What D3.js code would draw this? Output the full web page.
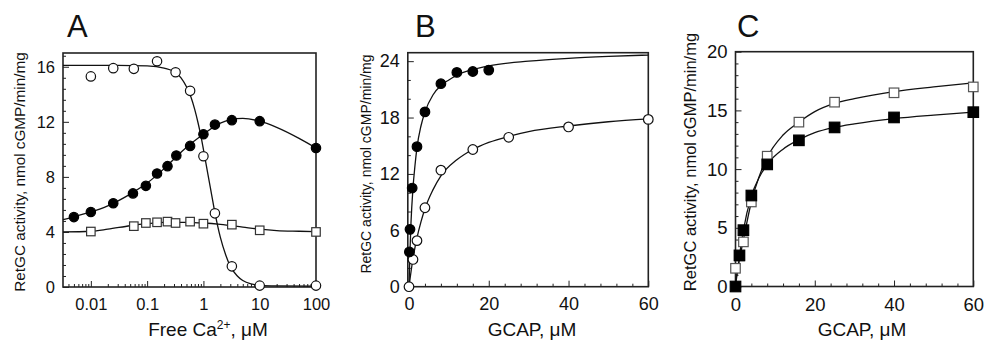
<!DOCTYPE html>
<html>
<head>
<meta charset="utf-8">
<script src="https://cdn.jsdelivr.net/npm/d3@7"></script>
<style>
body { margin: 0; background: #fff; }
svg { display: block; font-family: "Liberation Sans", Arial, sans-serif; }
</style>
</head>
<body>
<div id="chart"></div>
<script>
// ---- panel A : activity vs free Ca2+ (log axis)
var caOpenX   = [0.01, 0.025, 0.058, 0.15, 0.32, 0.58, 1.0, 1.6, 3.2, 10, 100];
var caOpenY   = [15.3, 15.9, 15.85, 16.4, 15.6, 14.25, 9.5, 5.35, 1.5, 0.1, 0.1];
var caFilledX = [0.005, 0.01, 0.025, 0.056, 0.095, 0.15, 0.23, 0.33, 0.58, 1.0, 1.6, 3.2, 10, 100];
var caFilledY = [5.08, 5.45, 6.08, 6.8, 7.35, 8.25, 8.78, 9.55, 10.25, 11.1, 11.8, 12.12, 12.05, 10.1];
var caSquareX = [0.01, 0.058, 0.095, 0.15, 0.23, 0.32, 0.58, 1.0, 3.2, 10, 100];
var caSquareY = [4.03, 4.42, 4.65, 4.7, 4.75, 4.65, 4.75, 4.6, 4.53, 4.12, 4.0];

// fitted curves
var caOpenFitX   = [0.0032, 0.01, 0.03, 0.1, 0.2, 0.3, 0.4, 0.5, 0.6, 0.7, 0.8, 0.9, 1, 1.2, 1.4, 1.6, 2, 2.5, 3, 4, 5, 7, 10, 20, 100];
var caOpenFitY   = [16.1, 16.1, 16.1, 16.06, 15.9, 15.65, 15.2, 14.55, 13.8, 12.9, 11.95, 11.0, 10.0, 8.2, 6.7, 5.4, 3.6, 2.3, 1.5, 0.8, 0.47, 0.22, 0.12, 0.08, 0.06];
var caFilledFitX = [0.0032, 0.005, 0.01, 0.02, 0.05, 0.1, 0.2, 0.3, 0.5, 1, 2, 3, 5, 10, 20, 50, 100];
var caFilledFitY = [4.9, 5.1, 5.45, 5.9, 6.75, 7.55, 8.6, 9.3, 10.15, 11.1, 11.9, 12.15, 12.25, 12.05, 11.6, 10.8, 10.1];
var caSquareFitX = [0.0032, 0.01, 0.02, 0.05, 0.1, 0.2, 0.5, 1, 2, 5, 10, 20, 50, 100];
var caSquareFitY = [4.0, 4.05, 4.2, 4.45, 4.6, 4.7, 4.7, 4.65, 4.55, 4.35, 4.2, 4.1, 4.05, 4.02];

var caTicksX = [0.01, 0.1, 1, 10, 100];
var caTicksY = [0, 4, 8, 12, 16];

// ---- panel B : activity vs GCAP
var bFilledX = [0.1, 0.25, 0.8, 2, 4, 8, 12, 16, 20];
var bFilledY = [3.7, 6.1, 10.5, 14.9, 18.6, 21.6, 22.8, 22.9, 23.05];
var bOpenX   = [0, 1, 2, 4, 8, 16, 25, 40, 60];
var bOpenY   = [0, 2.9, 4.9, 8.4, 12.4, 14.6, 15.9, 17.0, 17.8];
var bFilledFitX = [0, 0.25, 0.5, 1, 1.5, 2, 3, 4, 6, 8, 10, 12, 16, 20, 30, 40, 50, 60];
var bFilledFitY = [0, 3.8, 6.8, 10.5, 12.9, 14.8, 17.1, 18.6, 20.4, 21.4, 22.0, 22.5, 23.1, 23.5, 24.0, 24.3, 24.5, 24.65];
var bOpenFitX = [0, 1, 2, 3, 4, 6, 8, 12, 16, 20, 25, 30, 40, 50, 60];
var bOpenFitY = [0, 3.0, 5.2, 6.9, 8.3, 10.3, 11.8, 13.5, 14.6, 15.35, 16.0, 16.5, 17.1, 17.55, 17.85];
var bTicksX = [0, 20, 40, 60];
var bTicksY = [0, 6, 12, 18, 24];

// ---- panel C : activity vs GCAP
var cOpenX   = [0, 1, 2, 4, 8, 16, 25, 40, 60];
var cOpenY   = [1.55, 2.6, 3.8, 7.2, 11.1, 14.0, 15.7, 16.5, 17.0];
var cFilledX = [0, 1, 2, 4, 8, 16, 25, 40, 60];
var cFilledY = [0, 2.65, 4.8, 7.75, 10.4, 12.45, 13.55, 14.4, 14.85];
var cOpenFitX = [0, 1, 2, 4, 6, 8, 12, 16, 20, 25, 30, 40, 50, 60];
var cOpenFitY = [0.4, 2.3, 4.0, 7.2, 9.4, 11.0, 12.9, 14.0, 14.9, 15.6, 16.0, 16.6, 17.0, 17.35];
var cFilledFitX = [0, 1, 2, 4, 6, 8, 12, 16, 20, 25, 30, 40, 50, 60];
var cFilledFitY = [0, 2.6, 4.8, 7.7, 9.3, 10.4, 11.7, 12.5, 13.1, 13.55, 13.85, 14.3, 14.6, 14.85];
var cTicksX = [0, 20, 40, 60];
var cTicksY = [0, 5, 10, 15, 20];

var yTitle = "RetGC activity, nmol cGMP/min/mg";

var svg = d3.select("#chart").append("svg")
    .attr("width", 989)
    .attr("height", 348);

function pairs(xs, ys) {
    return xs.map(function(d, i) { return [d, ys[i]]; });
}

function drawPanel(p) {
    var g = svg.append("g");
    var x = p.x, y = p.y;
    var x0 = x.range()[0], x1 = x.range()[1];
    var y0 = y.range()[0], y1 = y.range()[1];

    // minor ticks
    g.append("g")
        .attr("transform", "translate(0," + y0 + ")")
        .call(d3.axisBottom(x).tickValues(p.minorX).tickSize(-3).tickFormat(""))
        .call(function(a) { a.select(".domain").remove(); });
    g.append("g")
        .attr("transform", "translate(" + x0 + ",0)")
        .call(d3.axisLeft(y).tickValues(p.minorY).tickSize(-3).tickFormat(""))
        .call(function(a) { a.select(".domain").remove(); });

    // major ticks + labels
    var ax = g.append("g")
        .attr("transform", "translate(0," + y0 + ")")
        .call(d3.axisBottom(x).tickValues(p.ticksX).tickSize(-6).tickPadding(11).tickFormat(d3.format("~g")));
    ax.select(".domain").remove();
    var ay = g.append("g")
        .attr("transform", "translate(" + x0 + ",0)")
        .call(d3.axisLeft(y).tickValues(p.ticksY).tickSize(-6).tickPadding(8).tickFormat(d3.format("~g")));
    ay.select(".domain").remove();
    g.selectAll(".tick text")
        .attr("font-family", "Liberation Sans, Arial, sans-serif")
        .attr("font-size", p.tickFont)
        .attr("fill", "#111");
    g.selectAll(".tick line").attr("stroke", "#222");

    // frame
    g.append("rect")
        .attr("x", x0).attr("y", y1)
        .attr("width", x1 - x0).attr("height", y0 - y1)
        .attr("fill", "none")
        .attr("stroke", "#222")
        .attr("stroke-width", 1.6);

    // curves
    var line = d3.line()
        .x(function(d) { return x(d[0]); })
        .y(function(d) { return y(d[1]); })
        .curve(d3.curveMonotoneX);
    p.curves.forEach(function(c) {
        g.append("path")
            .datum(c)
            .attr("d", line)
            .attr("fill", "none")
            .attr("stroke", "#111")
            .attr("stroke-width", 1.3);
    });

    // markers
    p.marks.forEach(function(m) {
        if (m.shape === "circle") {
            g.selectAll(null)
                .data(m.data)
                .enter()
                .append("circle")
                    .attr("cx", function(d) { return x(d[0]); })
                    .attr("cy", function(d) { return y(d[1]); })
                    .attr("r", m.size)
                    .attr("fill", m.fill)
                    .attr("stroke", m.stroke)
                    .attr("stroke-width", 1.2);
        } else {
            g.selectAll(null)
                .data(m.data)
                .enter()
                .append("rect")
                    .attr("x", function(d) { return x(d[0]) - m.size / 2; })
                    .attr("y", function(d) { return y(d[1]) - m.size / 2; })
                    .attr("width", m.size)
                    .attr("height", m.size)
                    .attr("fill", m.fill)
                    .attr("stroke", m.stroke)
                    .attr("stroke-width", 1.2);
        }
    });

    // panel letter
    g.append("text")
        .attr("x", p.letterX).attr("y", 37)
        .attr("font-size", 31)
        .attr("fill", "#111")
        .text(p.letter);

    // y title
    g.append("text")
        .attr("transform", "translate(" + p.yTitleX + "," + p.yTitleY + ") rotate(-90)")
        .attr("text-anchor", "middle")
        .attr("font-size", p.yTitleFont)
        .attr("fill", "#111")
        .text(yTitle);

    // x title
    var t = g.append("text")
        .attr("x", p.xTitleX).attr("y", 336)
        .attr("text-anchor", "middle")
        .attr("font-size", 19)
        .attr("fill", "#111");
    p.xTitle(t);
}

// ---- A
var xA = d3.scaleLog().domain([0.0032, 100]).range([63, 316]);
var yA = d3.scaleLinear().domain([0, 17]).range([287, 53]);
drawPanel({
    x: xA, y: yA,
    ticksX: caTicksX,
    minorX: xA.ticks().filter(function(d) { return caTicksX.indexOf(d) < 0; }),
    ticksY: caTicksY,
    minorY: d3.range(0, 17, 0.8).filter(function(d) { return d % 4 > 0.01 && d % 4 < 3.99; }),
    tickFont: 16.5,
    curves: [pairs(caOpenFitX, caOpenFitY), pairs(caFilledFitX, caFilledFitY), pairs(caSquareFitX, caSquareFitY)],
    marks: [
        {shape: "square", data: pairs(caSquareX, caSquareY), size: 8.5, fill: "#fff", stroke: "#333"},
        {shape: "circle", data: pairs(caFilledX, caFilledY), size: 4.7, fill: "#000", stroke: "#000"},
        {shape: "circle", data: pairs(caOpenX, caOpenY), size: 4.7, fill: "#fff", stroke: "#111"}
    ],
    letter: "A", letterX: 67,
    yTitleX: 25, yTitleY: 172, yTitleFont: 15.3,
    xTitleX: 208,
    xTitle: function(t) {
        t.append("tspan").text("Free Ca");
        t.append("tspan").attr("font-size", 12).attr("dy", -7).text("2+");
        t.append("tspan").attr("dy", 7).text(", \u03bcM");
    }
});

// ---- B
var xB = d3.scaleLinear().domain([-0.3, 60]).range([407.8, 648.3]);
var yB = d3.scaleLinear().domain([0, 24.9]).range([286.7, 52.7]);
drawPanel({
    x: xB, y: yB,
    ticksX: bTicksX,
    minorX: d3.range(4, 60, 4).filter(function(d) { return d % 20 !== 0; }),
    ticksY: bTicksY,
    minorY: d3.range(2, 24, 2).filter(function(d) { return d % 6 !== 0; }),
    tickFont: 18,
    curves: [pairs(bFilledFitX, bFilledFitY), pairs(bOpenFitX, bOpenFitY)],
    marks: [
        {shape: "circle", data: pairs(bOpenX, bOpenY), size: 4.8, fill: "#fff", stroke: "#111"},
        {shape: "circle", data: pairs(bFilledX, bFilledY), size: 4.8, fill: "#000", stroke: "#000"}
    ],
    letter: "B", letterX: 415,
    yTitleX: 371, yTitleY: 164, yTitleFont: 14,
    xTitleX: 532,
    xTitle: function(t) { t.text("GCAP, \u03bcM"); }
});

// ---- C
var xC = d3.scaleLinear().domain([0, 60]).range([735.5, 973.3]);
var yC = d3.scaleLinear().domain([0, 20]).range([286.5, 51.7]);
drawPanel({
    x: xC, y: yC,
    ticksX: cTicksX,
    minorX: d3.range(4, 60, 4).filter(function(d) { return d % 20 !== 0; }),
    ticksY: cTicksY,
    minorY: d3.range(1, 20, 1).filter(function(d) { return d % 5 !== 0; }),
    tickFont: 18.5,
    curves: [pairs(cOpenFitX, cOpenFitY), pairs(cFilledFitX, cFilledFitY)],
    marks: [
        {shape: "square", data: pairs(cOpenX, cOpenY), size: 9.5, fill: "#fff", stroke: "#555"},
        {shape: "square", data: pairs(cFilledX, cFilledY), size: 10.5, fill: "#000", stroke: "#000"}
    ],
    letter: "C", letterX: 737,
    yTitleX: 696, yTitleY: 162, yTitleFont: 16.5,
    xTitleX: 862,
    xTitle: function(t) { t.text("GCAP, \u03bcM"); }
});
</script>
</body>
</html>
